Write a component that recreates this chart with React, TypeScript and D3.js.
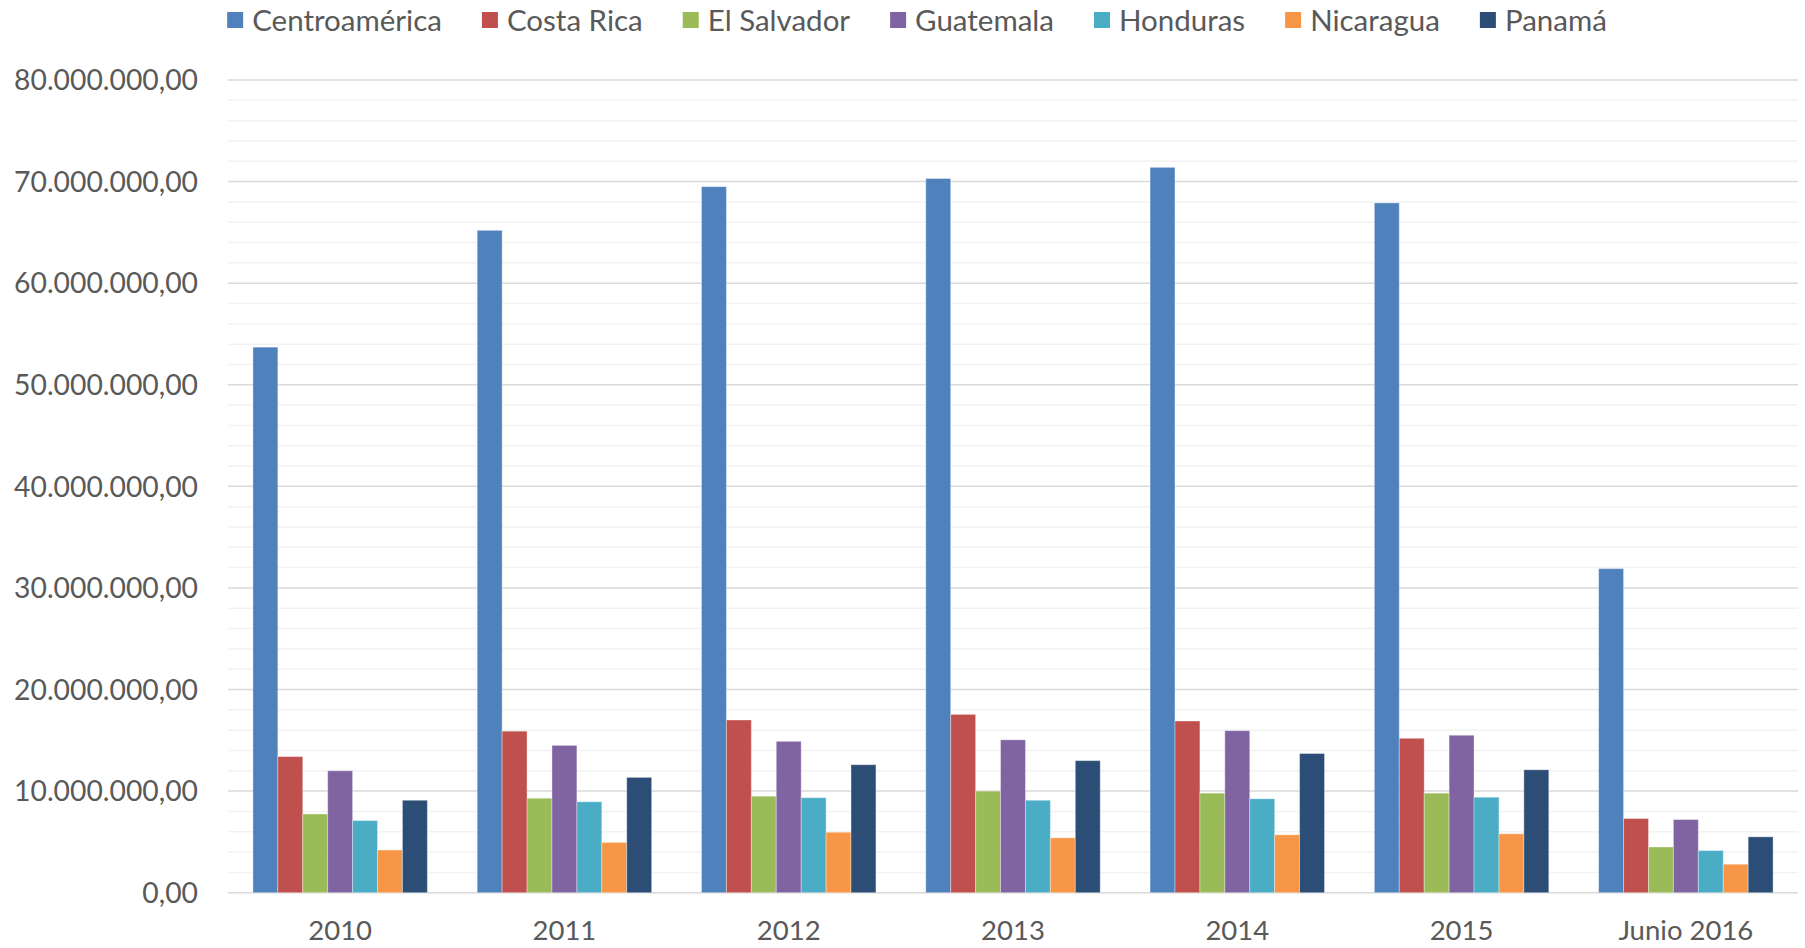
import { useEffect, useRef } from 'react'
import { select, scaleBand, scaleLinear, range, formatLocale } from 'd3'

// categories on the x axis
const categories = ['2010', '2011', '2012', '2013', '2014', '2015', 'Junio 2016']

// series names and colours
const seriesNames = ['Centroamérica', 'Costa Rica', 'El Salvador', 'Guatemala', 'Honduras', 'Nicaragua', 'Panamá']
const seriesColors = ['#4F81BD', '#C0504D', '#9BBB59', '#8064A2', '#4BACC6', '#F79646', '#2C4D75']

// values, one array per series (same order as categories)
const centroamerica = [53.7e6, 65.2e6, 69.5e6, 70.3e6, 71.4e6, 67.9e6, 31.9e6]
const costaRica = [13.4e6, 15.9e6, 17.0e6, 17.55e6, 16.9e6, 15.2e6, 7.3e6]
const elSalvador = [7.75e6, 9.3e6, 9.5e6, 10.0e6, 9.8e6, 9.8e6, 4.5e6]
const guatemala = [12.0e6, 14.5e6, 14.9e6, 15.05e6, 15.95e6, 15.5e6, 7.2e6]
const honduras = [7.1e6, 8.95e6, 9.35e6, 9.1e6, 9.25e6, 9.4e6, 4.15e6]
const nicaragua = [4.2e6, 4.95e6, 5.95e6, 5.4e6, 5.7e6, 5.8e6, 2.8e6]
const panama = [9.1e6, 11.35e6, 12.6e6, 13.0e6, 13.7e6, 12.1e6, 5.5e6]

const seriesValues = [centroamerica, costaRica, elSalvador, guatemala, honduras, nicaragua, panama]

// y axis ticks
const yMax = 80e6
const majorTicks = range(0, yMax + 1, 10e6)
const minorTicks = range(0, yMax + 1, 2e6)

const FONT = 'Lato, "Open Sans", sans-serif'
const TEXT_COLOR = '#595959'

const esLocale = formatLocale({ decimal: ',', thousands: '.', grouping: [3], currency: ['', ''] })
const fmt = esLocale.format(',.2f')

const Chart = () => {
  const svgRef = useRef(null)
  const width = 1805
  const height = 948

  useEffect(() => {
    const marginLeft = 228
    const marginRight = 7
    const marginTop = 80
    const plotBottom = 892.7

    const svg = select(svgRef.current)
    svg.selectAll('*').remove()
    svg.attr('width', width).attr('height', height).style('display', 'block').style('background', '#fff')

    const x = scaleBand<string>().domain(categories).range([marginLeft, width - marginRight])
    // Excel-style gap width 200%: bar = band / (n + 2)
    const barW = x.bandwidth() / (seriesNames.length + 2)
    const y = scaleLinear().domain([0, yMax]).range([plotBottom, marginTop])

    // minor gridlines
    svg
      .append('g')
      .selectAll('line')
      .data(minorTicks.filter((t) => t % 10e6 !== 0))
      .join('line')
      .attr('x1', marginLeft)
      .attr('x2', width - marginRight)
      .attr('y1', (d) => y(d))
      .attr('y2', (d) => y(d))
      .attr('stroke', '#F2F2F2')
      .attr('stroke-width', 1.5)

    // major gridlines
    svg
      .append('g')
      .selectAll('line')
      .data(majorTicks)
      .join('line')
      .attr('x1', marginLeft)
      .attr('x2', width - marginRight)
      .attr('y1', (d) => y(d))
      .attr('y2', (d) => y(d))
      .attr('stroke', '#D9D9D9')
      .attr('stroke-width', 1.5)

    // y tick labels
    svg
      .append('g')
      .selectAll('text')
      .data(majorTicks)
      .join('text')
      .attr('x', 198)
      .attr('y', (d) => y(d))
      .attr('dy', '0.36em')
      .attr('text-anchor', 'end')
      .attr('font-family', FONT)
      .attr('font-size', 28.3)
      .attr('fill', TEXT_COLOR)
      .text((d) => fmt(d))

    // bars
    seriesValues.forEach((vals, si) => {
      svg
        .append('g')
        .selectAll('rect')
        .data(vals)
        .join('rect')
        .attr('x', (_, i) => x(categories[i])! + barW * (1 + si))
        .attr('y', (d) => y(d))
        .attr('width', barW)
        .attr('height', (d) => plotBottom - y(d))
        .attr('fill', seriesColors[si])
        .attr('stroke', '#ffffff')
        .attr('stroke-opacity', 0.35)
        .attr('stroke-width', 1)
    })

    // category labels
    svg
      .append('g')
      .selectAll('text')
      .data(categories)
      .join('text')
      .attr('x', (d) => x(d)! + x.bandwidth() / 2)
      .attr('y', 940)
      .attr('text-anchor', 'middle')
      .attr('font-family', FONT)
      .attr('font-size', 27.5)
      .attr('fill', TEXT_COLOR)
      .text((d) => d)

    // legend, laid out by measured text widths and centred
    const legend = svg.append('g')
    const sq = 16
    const sqGap = 9
    const itemGap = 40
    const items = seriesNames.map((name, i) => {
      const g = legend.append('g')
      g.append('rect').attr('width', sq).attr('height', sq).attr('y', 12).attr('fill', seriesColors[i])
      const t = g
        .append('text')
        .attr('x', sq + sqGap)
        .attr('y', 20)
        .attr('dy', '0.36em')
        .attr('font-family', FONT)
        .attr('font-size', 29.5)
        .attr('fill', TEXT_COLOR)
        .text(name)
      const w = (t.node() as SVGTextElement).getComputedTextLength()
      return { g, w: sq + sqGap + w }
    })
    const total = items.reduce((s, it) => s + it.w, 0) + itemGap * (items.length - 1)
    let cx = 917 - total / 2
    items.forEach((it) => {
      it.g.attr('transform', `translate(${cx},0)`)
      cx += it.w + itemGap
    })
  }, [])

  return <svg ref={svgRef} />
}

export default function App() {
  useEffect(() => {
    document.body.style.margin = '0'
  }, [])
  return <Chart />
}
